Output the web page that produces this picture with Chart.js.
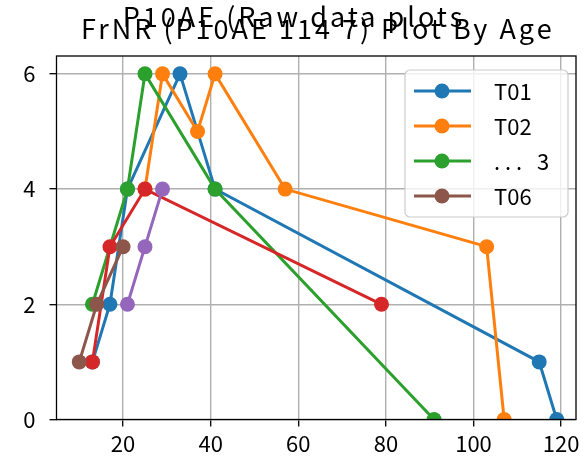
<!DOCTYPE html>
<html>
<head>
<meta charset="utf-8">
<script src="https://cdn.jsdelivr.net/npm/chart.js@4/dist/chart.umd.min.js"></script>
<style>
  body { margin: 0; background: #fff; }
  canvas { display: block; }
</style>
</head>
<body>
<canvas id="ageChart" width="585" height="461"></canvas>
<script>
// Dados
const seriesNames = ['T01', 'T02', '. . .   3', 'T04', 'T05', 'T06'];
const seriesColors = ['#1f77b4', '#ff7f0e', '#2ca02c', '#d62728', '#9467bd', '#8c564b'];
const legendShown = [true, true, true, false, false, true];

const t01Age = [13, 17, 21, 33, 41, 115, 119];
const t01Val = [1, 2, 4, 6, 4, 1, 0];
const t02Age = [25, 29, 37, 41, 57, 103, 107];
const t02Val = [4, 6, 5, 6, 4, 3, 0];
const t03Age = [13, 21, 25, 41, 91];
const t03Val = [2, 4, 6, 4, 0];
const t04Age = [13, 17, 25, 79];
const t04Val = [1, 3, 4, 2];
const t05Age = [21, 25, 29];
const t05Val = [2, 3, 4];
const t06Age = [10, 14, 20];
const t06Val = [1, 2, 3];

const xTicks = [20, 40, 60, 80, 100, 120];
const yTicks = [0, 2, 4, 6];

const suptitle = 'P10AE (Raw data plots';
const axTitle = 'FrNR (P10AE 114 7) Plot By Age';

const ages = [t01Age, t02Age, t03Age, t04Age, t05Age, t06Age];
const vals = [t01Val, t02Val, t03Val, t04Val, t05Val, t06Val];

const FONT = "'Noto Sans CJK JP', 'DejaVu Sans', sans-serif";

const datasets = seriesNames.map((name, i) => ({
  label: name,
  data: ages[i].map((a, j) => ({ x: a, y: vals[i][j] })),
  borderColor: seriesColors[i],
  backgroundColor: seriesColors[i],
  pointBackgroundColor: seriesColors[i],
  borderWidth: 3,
  pointRadius: 7.5,
  pointBorderWidth: 0,
  tension: 0,
  clip: 0,
  order: seriesNames.length - i
}));

// Moldura, títulos e legenda no estilo matplotlib
const decorPlugin = {
  id: 'decor',
  afterDraw(chart) {
    const c = chart.ctx;
    const a = chart.chartArea;
    c.save();
    c.strokeStyle = '#000';
    c.lineWidth = 1.3;
    c.strokeRect(a.left, a.top, a.right - a.left, a.bottom - a.top);

    // legenda
    const lx = 405, ly = 70, lw = 163, lh = 147;
    c.fillStyle = 'rgba(255,255,255,0.8)';
    c.strokeStyle = '#cccccc';
    c.lineWidth = 1.2;
    c.beginPath();
    c.roundRect(lx, ly, lw, lh, 5);
    c.fill();
    c.stroke();
    let row = 0;
    seriesNames.forEach((name, i) => {
      if (!legendShown[i]) return;
      const y = 91 + row * 35;
      c.strokeStyle = seriesColors[i];
      c.lineWidth = 3;
      c.beginPath();
      c.moveTo(414, y);
      c.lineTo(471, y);
      c.stroke();
      c.fillStyle = seriesColors[i];
      c.beginPath();
      c.arc(442, y, 7.5, 0, Math.PI * 2);
      c.fill();
      c.fillStyle = '#000';
      c.font = '22px ' + FONT;
      c.textAlign = 'left';
      c.textBaseline = 'middle';
      c.fillText(name, 494, y + 1);
      row++;
    });

    // títulos sobrepostos
    c.fillStyle = '#000';
    c.textAlign = 'center';
    c.textBaseline = 'alphabetic';
    c.font = '27px ' + FONT;
    c.letterSpacing = '3px';
    c.fillText(suptitle, 294, 27);
    c.fillText(axTitle, (a.left + a.right) / 2 + 1.5, 38.5);
    c.restore();
  }
};

const ctx = document.getElementById('ageChart').getContext('2d');
const ageChart = new Chart(ctx, {
  type: 'line',
  data: { datasets: datasets },
  options: {
    responsive: false,
    animation: false,
    layout: { padding: { top: 56, right: 9, bottom: 0, left: 0 } },
    plugins: {
      legend: { display: false },
      title: { display: false },
      tooltip: { enabled: false }
    },
    scales: {
      x: {
        type: 'linear',
        min: 4.8,
        max: 123.4,
        afterFit: (s) => { s.height = 41.5; },
        afterBuildTicks: (s) => { s.ticks = xTicks.map(v => ({ value: v })); },
        border: { display: false },
        grid: { color: '#b0b0b0', lineWidth: 1.4, tickColor: '#000', tickLength: 7, tickWidth: 1.3 },
        ticks: { color: '#000', font: { family: FONT, size: 22 }, padding: 4, maxRotation: 0 }
      },
      y: {
        type: 'linear',
        min: 0,
        max: 6.31,
        afterFit: (s) => { s.width = 56.5; },
        afterBuildTicks: (s) => { s.ticks = yTicks.map(v => ({ value: v })); },
        border: { display: false },
        grid: { color: '#b0b0b0', lineWidth: 1.4, tickColor: '#000', tickLength: 7, tickWidth: 1.3 },
        ticks: { color: '#000', font: { family: FONT, size: 22 }, padding: 14 }
      }
    }
  },
  plugins: [decorPlugin]
});
</script>
</body>
</html>
